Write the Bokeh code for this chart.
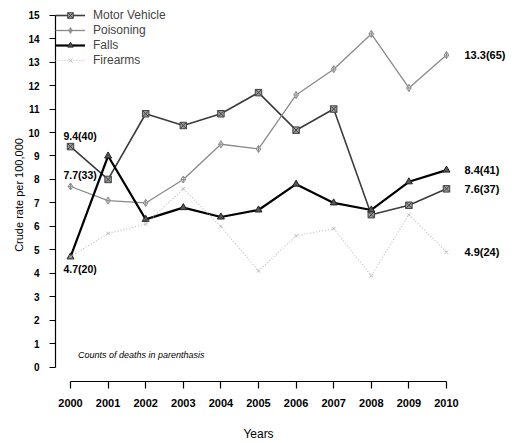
from bokeh.plotting import figure
from bokeh.models import Range1d, FixedTicker, ColumnDataSource, LabelSet, Label, Legend, LinearAxis
from bokeh.core.properties import value
from bokeh.embed import file_html
from bokeh.resources import INLINE

years = [2000, 2001, 2002, 2003, 2004, 2005, 2006, 2007, 2008, 2009, 2010]
motor_vehicle = [9.4, 8.0, 10.8, 10.3, 10.8, 11.7, 10.1, 11.0, 6.5, 6.9, 7.6]
poisoning = [7.7, 7.1, 7.0, 8.0, 9.5, 9.3, 11.6, 12.7, 14.2, 11.9, 13.3]
falls = [4.7, 9.0, 6.3, 6.8, 6.4, 6.7, 7.8, 7.0, 6.7, 7.9, 8.4]
firearms = [4.7, 5.7, 6.1, 7.6, 6.0, 4.1, 5.6, 5.9, 3.9, 6.5, 4.9]

start_labels = ["9.4(40)", "7.7(33)", "4.7(20)"]
start_values = [9.4, 7.7, 4.7]
start_offsets = [11, 12, -12]
end_labels = ["13.3(65)", "8.4(41)", "7.6(37)", "4.9(24)"]
end_values = [13.3, 8.4, 7.6, 4.9]
y_ticks = list(range(0, 16))

FONT = "Liberation Sans"

p = figure(width=514, height=443,
           x_range=Range1d(1999.601, 2010.399), y_range=Range1d(-0.609, 15.285),
           output_backend="svg", toolbar_location=None,
           min_border_left=55, min_border_right=53, min_border_top=8, min_border_bottom=62)
p.outline_line_color = None
p.grid.visible = False

r_mv_l = p.line(years, motor_vehicle, line_color="#3c3c3c", line_width=1.6)
r_mv_m = p.scatter(years, motor_vehicle, marker="square_x", size=6.5, line_color="#444444", fill_color="#9a9a9a")
r_po_l = p.line(years, poisoning, line_color="#8a8a8a", line_width=1.3)
r_po_m = p.scatter(years, poisoning, marker="diamond_cross", size=7, line_color="#8a8a8a", fill_color="white")
r_fa_l = p.line(years, falls, line_color="black", line_width=2.2)
r_fa_m = p.scatter(years, falls, marker="triangle", size=7, line_color="#222222", fill_color="#555555")
r_fi_l = p.line(years, firearms, line_color="#bdbdbd", line_width=1.1, line_dash="1 2")
r_fi_m = p.scatter(years, firearms, marker="x", size=5, line_color="#bdbdbd")

legend = Legend(items=[("Motor Vehicle", [r_mv_l, r_mv_m]),
                       ("Poisoning", [r_po_l, r_po_m]),
                       ("Falls", [r_fa_l, r_fa_m]),
                       ("Firearms", [r_fi_l, r_fi_m])],
                location="top_left", margin=0, padding=0, spacing=1,
                glyph_width=30, glyph_height=14, label_height=14, label_standoff=8,
                label_text_font=FONT, label_text_font_size="12px",
                background_fill_alpha=0, border_line_color=None)
p.add_layout(legend)

src_start = ColumnDataSource(dict(x=[years[0]] * 3, y=start_values, t=start_labels, off=start_offsets))
p.add_layout(LabelSet(x="x", y="y", text="t", source=src_start, x_offset=-7, y_offset="off",
                      text_font=value(FONT), text_font_size=value("10.5px"), text_font_style=value("bold"),
                      text_color="black", text_baseline="middle", text_align="left"))

# labels at the line ends, drawn as a right-hand axis so they sit outside the plot frame
end_axis = LinearAxis(ticker=FixedTicker(ticks=end_values),
                      major_label_overrides={v: t for v, t in zip(end_values, end_labels)})
end_axis.axis_line_color = None
end_axis.major_tick_line_color = None
end_axis.minor_tick_line_color = None
end_axis.major_tick_in = 0
end_axis.major_tick_out = 0
end_axis.major_label_standoff = 3
end_axis.major_label_text_font = FONT
end_axis.major_label_text_font_size = "11px"
end_axis.major_label_text_font_style = "bold"
end_axis.major_label_text_color = "black"
p.add_layout(end_axis, "right")

p.add_layout(Label(x=2000.2, y=0.5, text="Counts of deaths in parenthasis", text_font=FONT,
                   text_font_size="9px", text_font_style="italic", text_baseline="middle",
                   text_color="black"))

for ax in (p.xaxis[0], p.yaxis[0]):
    ax.axis_line_color = "black"
    ax.axis_line_width = 1.2
    ax.major_tick_line_color = "black"
    ax.major_tick_line_width = 1.2
    ax.major_tick_in = 0
    ax.major_tick_out = 7
    ax.minor_tick_line_color = None
    ax.major_label_text_font = FONT
    ax.major_label_text_font_style = "bold"
    ax.major_label_text_color = "black"
    ax.axis_label_text_font = FONT
    ax.axis_label_text_font_style = "normal"
    ax.axis_label_text_color = "black"

xa = p.xaxis[0]
xa.ticker = FixedTicker(ticks=years)
xa.bounds = (2000, 2010)
xa.major_label_text_font_size = "11px"
xa.major_label_standoff = 10
xa.axis_label = "Years"
xa.axis_label_text_font_size = "12px"
xa.axis_label_standoff = 17

ya = p.yaxis[0]
ya.ticker = FixedTicker(ticks=y_ticks)
ya.bounds = (0, 15)
ya.major_tick_out = 6
ya.major_label_text_font_size = "10px"
ya.major_label_standoff = 10
ya.axis_label = "Crude rate per 100,000"
ya.axis_label_text_font_size = "11px"
ya.axis_label_standoff = 0

open("out.html", "w").write(file_html(p, INLINE))
